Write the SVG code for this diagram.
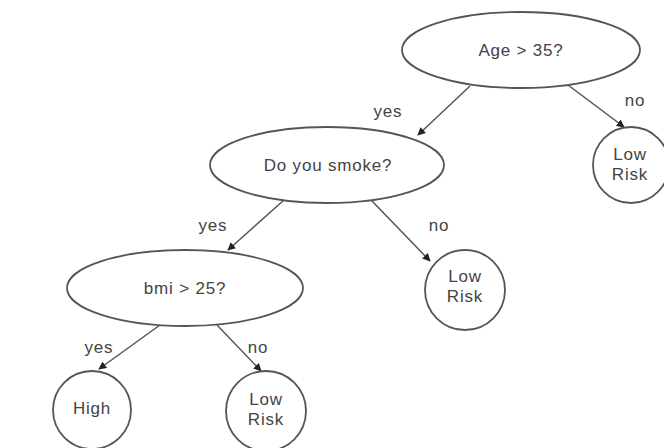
<svg xmlns="http://www.w3.org/2000/svg" width="664" height="448" viewBox="0 0 664 448">
<style>
.n{fill:#fff;stroke:#555;stroke-width:1.8}
.t{font-family:"Liberation Sans",Arial,sans-serif;font-size:17px;letter-spacing:0.8px;fill:#444;text-anchor:middle}
.e{stroke:#555;stroke-width:1.5;fill:none;marker-end:url(#a)}
</style>
<defs>
<marker id="a" viewBox="0 0 10 10" refX="9" refY="5" markerWidth="8" markerHeight="8" orient="auto" markerUnits="userSpaceOnUse">
<path d="M0,0 L10,5 L0,10 z" fill="#222"/>
</marker>
</defs>
<rect width="664" height="448" fill="#fff"/>
<g id="edges">
<line class="e" x1="470" y1="86" x2="418" y2="135"/>
<text class="t" x="388" y="117">yes</text>
<line class="e" x1="568" y1="85" x2="624" y2="127"/>
<text class="t" x="635" y="106">no</text>
<line class="e" x1="284" y1="200" x2="228" y2="250"/>
<text class="t" x="213" y="231">yes</text>
<line class="e" x1="372" y1="201" x2="430" y2="261"/>
<text class="t" x="439" y="231">no</text>
<line class="e" x1="160" y1="325" x2="99" y2="369"/>
<text class="t" x="99" y="353">yes</text>
<line class="e" x1="217" y1="325" x2="261" y2="371"/>
<text class="t" x="258" y="353">no</text>
</g>
<g id="age">
<ellipse class="n" cx="521" cy="50" rx="119" ry="38"/>
<text class="t" x="521" y="56">Age &gt; 35?</text>
</g>
<g id="low1">
<circle class="n" cx="631" cy="165" r="38"/>
<text class="t" x="630" y="160">Low</text>
<text class="t" x="630" y="180">Risk</text>
</g>
<g id="smoke">
<ellipse class="n" cx="327" cy="165" rx="117" ry="38"/>
<text class="t" x="328" y="171">Do you smoke?</text>
</g>
<g id="low2">
<circle class="n" cx="465" cy="290" r="40"/>
<text class="t" x="465" y="282">Low</text>
<text class="t" x="465" y="302">Risk</text>
</g>
<g id="bmi">
<ellipse class="n" cx="185" cy="288" rx="118" ry="38"/>
<text class="t" x="185" y="294">bmi &gt; 25?</text>
</g>
<g id="high">
<circle class="n" cx="92" cy="410" r="39"/>
<text class="t" x="92" y="414">High</text>
</g>
<g id="low3">
<circle class="n" cx="266" cy="411" r="40"/>
<text class="t" x="266" y="405">Low</text>
<text class="t" x="266" y="425">Risk</text>
</g>
</svg>
